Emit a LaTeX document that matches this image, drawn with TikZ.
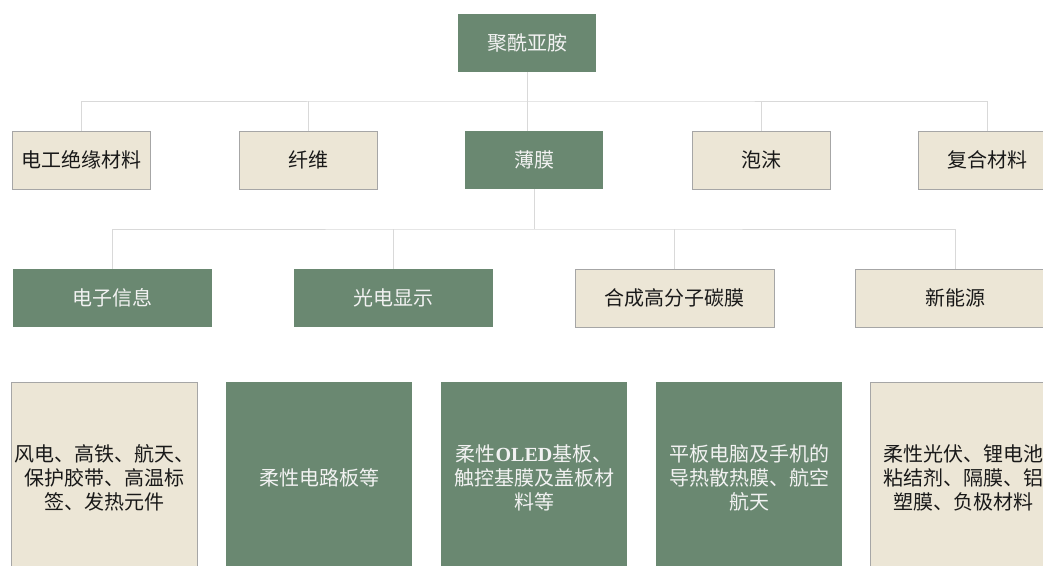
\documentclass[tikz,border=0pt]{standalone}
\usepackage{fontspec}
\newfontfamily\cjk{Noto Sans CJK SC}
\newfontfamily\latb{Liberation Serif}
\definecolor{gr}{HTML}{6A8871}
\definecolor{bg}{HTML}{ECE6D6}
\definecolor{ln}{HTML}{D9D9D9}
\begin{document}
\begin{tikzpicture}[x=1pt,y=-1pt,
  box/.style={inner sep=0pt, font=\cjk\fontsize{20}{24}\selectfont, align=center},
  gbox/.style={box, fill=gr, text=white!95!black},
  bbox/.style={box, fill=bg, draw=black!35, line width=0.6pt, text=black!90},
  lone/.style={minimum width=138pt, minimum height=58pt},
  ltwo/.style={minimum width=199pt, minimum height=58pt},
  lthree/.style={minimum width=185pt, minimum height=192pt, text width=186pt},
  conn/.style={draw=ln, line width=0.8pt}]
\useasboundingbox (0,0) rectangle (1043,565);
\fill[white] (0,0) rectangle (1043,565);
\clip (0,0) rectangle (1043,565);

% level 0
\node[gbox, lone] (root) at (527,43) {聚酰亚胺};
% level 1
\node[bbox, lone] (c1) at (81,160) {电工绝缘材料};
\node[bbox, lone] (c2) at (308,160) {纤维};
\node[gbox, lone] (film) at (534,160) {薄膜};
\node[bbox, lone] (c4) at (761,160) {泡沫};
\node[bbox, lone] (c5) at (987,160) {复合材料};
% level 2
\node[gbox, ltwo] (d1) at (112.5,298) {电子信息};
\node[gbox, ltwo] (d2) at (393,298) {光电显示};
\node[bbox, ltwo] (d3) at (674.5,298) {合成高分子碳膜};
\node[bbox, ltwo] (d4) at (955,298) {新能源};
% level 3
\node[bbox, lthree] (e1) at (104.5,478) {风电、高铁、航天、\\保护胶带、高温标\\签、发热元件};
\node[gbox, lthree] (e2) at (319,478) {柔性电路板等};
\node[gbox, lthree] (e3) at (534,478) {柔性{\latb\bfseries OLED}基板、\\触控基膜及盖板材\\料等};
\node[gbox, lthree] (e4) at (749,478) {平板电脑及手机的\\导热散热膜、航空\\航天};
\node[bbox, lthree] (e5) at (963,478) {柔性光伏、锂电池\\粘结剂、隔膜、铝\\塑膜、负极材料};

% connectors
\coordinate (bus1) at (527,101);
\coordinate (bus2) at (534,229);
\draw[conn] (root.south) -- (root.south |- film.north);
\draw[conn] (c1.north) |- (bus1) -| (c5.north);
\draw[conn] (c2.north) -- (c2.north |- bus1);
\draw[conn] (c4.north) -- (c4.north |- bus1);
\draw[conn] (film.south) -- (bus2);
\draw[conn] (d1.north) |- (bus2) -| (d4.north);
\draw[conn] (d2.north) -- (d2.north |- bus2);
\draw[conn] (d3.north) -- (d3.north |- bus2);
\end{tikzpicture}
\end{document}
